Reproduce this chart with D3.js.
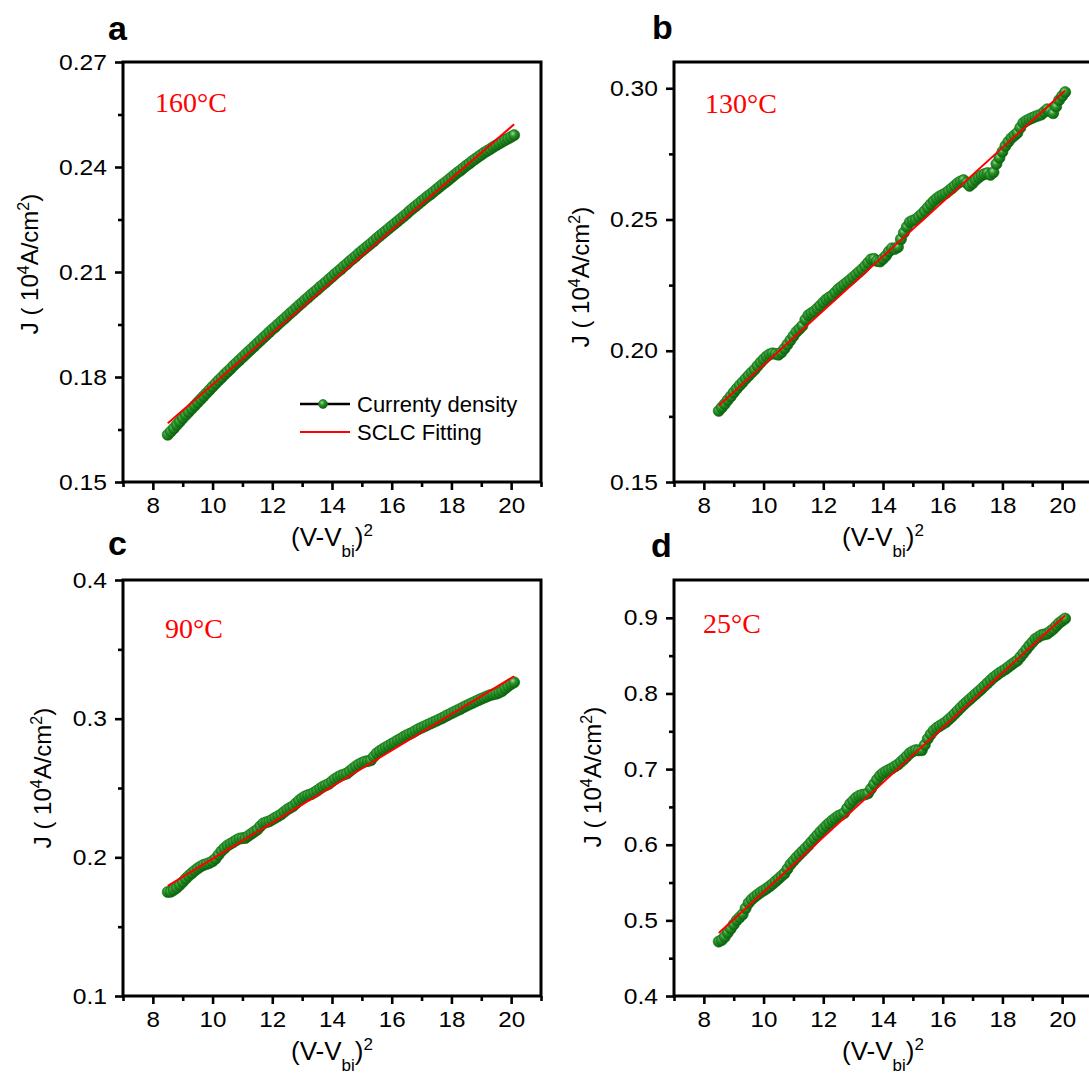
<!DOCTYPE html>
<html><head><meta charset="utf-8">
<script src="https://cdn.jsdelivr.net/npm/d3@7"></script>
<style>body{margin:0;background:#fff}</style>
</head><body>
<svg id="chart" width="1089" height="1077"></svg>
<script>
// ---------- data ----------
const xVals = [8.5,8.6,8.7,8.8,8.9,
 9.0,9.1,9.2,9.3,9.4,9.5,9.6,9.7,9.8,9.9,
 10.0,10.1,10.2,10.3,10.4,10.5,10.6,10.7,10.8,10.9,
 11.0,11.1,11.2,11.3,11.4,11.5,11.6,11.7,11.8,11.9,
 12.0,12.1,12.2,12.3,12.4,12.5,12.6,12.7,12.8,12.9,
 13.0,13.1,13.2,13.3,13.4,13.5,13.6,13.7,13.8,13.9,
 14.0,14.1,14.2,14.3,14.4,14.5,14.6,14.7,14.8,14.9,
 15.0,15.1,15.2,15.3,15.4,15.5,15.6,15.7,15.8,15.9,
 16.0,16.1,16.2,16.3,16.4,16.5,16.6,16.7,16.8,16.9,
 17.0,17.1,17.2,17.3,17.4,17.5,17.6,17.7,17.8,17.9,
 18.0,18.1,18.2,18.3,18.4,18.5,18.6,18.7,18.8,18.9,
 19.0,19.1,19.2,19.3,19.4,19.5,19.6,19.7,19.8,19.9,
 20.0,20.1];
const jA = [.1635,.1644,.1653,.1663,.1672,
 .1682,.1691,.1700,.1709,.1718,.1727,.1736,.1745,.1754,.1763,
 .1772,.1781,.1790,.1798,.1807,.1815,.1823,.1832,.1840,.1848,
 .1856,.1864,.1872,.1880,.1888,.1896,.1904,.1912,.1920,.1928,
 .1936,.1943,.1951,.1959,.1966,.1974,.1982,.1989,.1997,.2005,
 .2012,.2020,.2027,.2035,.2042,.2049,.2057,.2064,.2071,.2079,
 .2086,.2094,.2101,.2108,.2116,.2123,.2131,.2138,.2145,.2153,
 .2160,.2167,.2174,.2181,.2188,.2196,.2203,.2210,.2217,.2224,
 .2231,.2238,.2245,.2252,.2259,.2266,.2274,.2281,.2288,.2295,
 .2302,.2309,.2316,.2322,.2329,.2336,.2343,.2350,.2356,.2363,
 .2370,.2377,.2384,.2390,.2397,.2404,.2410,.2417,.2423,.2429,
 .2435,.2441,.2446,.2451,.2457,.2462,.2467,.2472,.2477,.2481,
 .2486,.2491];
const jB = [.1771,.1784,.1797,.1812,.1826,
 .1841,.1855,.1868,.1880,.1893,.1905,.1917,.1928,.1942,.1955,
 .1967,.1978,.1986,.1990,.1988,.1985,.1994,.2008,.2024,.2040,
 .2056,.2072,.2083,.2095,.2118,.2135,.2143,.2150,.2161,.2172,
 .2184,.2195,.2203,.2210,.2222,.2234,.2243,.2252,.2261,.2270,
 .2280,.2290,.2300,.2310,.2322,.2335,.2348,.2350,.2342,.2340,
 .2350,.2362,.2378,.2390,.2388,.2395,.2425,.2450,.2472,.2490,
 .2496,.2500,.2510,.2520,.2532,.2545,.2558,.2570,.2580,.2588,
 .2594,.2600,.2609,.2618,.2628,.2638,.2645,.2650,.2640,.2628,
 .2638,.2650,.2660,.2668,.2673,.2677,.2670,.2680,.2712,.2735,
 .2758,.2780,.2796,.2810,.2820,.2830,.2850,.2868,.2876,.2882,
 .2887,.2892,.2896,.2900,.2910,.2920,.2912,.2905,.2930,.2955,
 .2970,.2985];
const jC = [.1750,.1752,.1765,.1780,.1800,
 .1822,.1845,.1866,.1885,.1903,.1920,.1934,.1945,.1952,.1960,
 .1972,.1990,.2018,.2045,.2066,.2085,.2098,.2110,.2124,.2135,
 .2138,.2140,.2155,.2170,.2185,.2200,.2224,.2245,.2253,.2260,
 .2272,.2285,.2297,.2310,.2328,.2345,.2357,.2370,.2390,.2410,
 .2426,.2440,.2448,.2455,.2467,.2480,.2496,.2510,.2520,.2530,
 .2548,.2565,.2578,.2590,.2597,.2605,.2622,.2640,.2656,.2670,
 .2681,.2690,.2694,.2700,.2726,.2750,.2766,.2780,.2793,.2805,
 .2818,.2830,.2843,.2855,.2868,.2880,.2890,.2900,.2913,.2925,
 .2935,.2945,.2955,.2965,.2975,.2985,.2995,.3005,.3017,.3028,
 .3039,.3050,.3060,.3070,.3082,.3093,.3103,.3113,.3123,.3133,
 .3143,.3152,.3161,.3170,.3175,.3180,.3188,.3200,.3218,.3235,
 .3250,.3262];
const jD = [.4720,.4740,.4780,.4835,.4890,
 .4945,.5000,.5040,.5080,.5160,.5230,.5275,.5310,.5340,.5370,
 .5395,.5420,.5450,.5480,.5515,.5550,.5585,.5620,.5680,.5740,
 .5785,.5830,.5870,.5910,.5950,.5990,.6035,.6080,.6125,.6170,
 .6210,.6250,.6285,.6320,.6350,.6380,.6395,.6420,.6480,.6540,
 .6580,.6620,.6645,.6660,.6665,.6680,.6740,.6800,.6860,.6910,
 .6945,.6970,.6990,.7010,.7035,.7060,.7095,.7130,.7170,.7210,
 .7235,.7250,.7248,.7250,.7320,.7400,.7460,.7510,.7545,.7570,
 .7595,.7620,.7655,.7690,.7730,.7770,.7810,.7850,.7885,.7920,
 .7955,.7990,.8025,.8060,.8098,.8136,.8173,.8210,.8240,.8270,
 .8295,.8320,.8350,.8380,.8408,.8435,.8482,.8530,.8580,.8630,
 .8675,.8720,.8745,.8770,.8780,.8790,.8820,.8850,.8890,.8930,
 .8960,.8990];
const fitX = [8.5, 20.1];
const fitA = [0.1668, 0.2522];
const fitB = [0.1791, 0.2991];
const fitC = [0.1794, 0.3306];
const fitD = [0.4833, 0.9032];
const xTicks = [8,10,12,14,16,18,20];
const xMinor = [7,9,11,13,15,17,19,21];
const yTicksA = [0.15,0.18,0.21,0.24,0.27], yMinorA = [0.165,0.195,0.225,0.255];
const yTicksB = [0.15,0.20,0.25,0.30],      yMinorB = [0.175,0.225,0.275];
const yTicksC = [0.1,0.2,0.3,0.4],          yMinorC = [0.15,0.25,0.35];
const yTicksD = [0.4,0.5,0.6,0.7,0.8,0.9],  yMinorD = [0.45,0.55,0.65,0.75,0.85];
const yDomA = [0.15,0.27], yDomB = [0.15,0.31], yDomC = [0.1,0.4], yDomD = [0.4,0.95];
const xDom = [7,21];
const letters = ["a","b","c","d"];
const temps = ["160°C","130°C","90°C","25°C"];
const legendLabels = ["Currenty density","SCLC Fitting"];

// ---------- layout ----------
const panels = [
  {J:jA, fit:fitA, yDom:yDomA, yT:yTicksA, yM:yMinorA, fmt:".2f", left:123, top:62,  w:418, h:420, letter:[108,40],  temp:[155,112], yt:[38,264],  xtY:546, legend:true},
  {J:jB, fit:fitB, yDom:yDomB, yT:yTicksB, yM:yMinorB, fmt:".2f", left:674, top:62,  w:418, h:420, letter:[652,39],  temp:[705,113], yt:[589,277], xtY:546},
  {J:jC, fit:fitC, yDom:yDomC, yT:yTicksC, yM:yMinorC, fmt:".1f", left:123, top:580, w:418, h:416, letter:[108,555], temp:[165,638], yt:[51,778],  xtY:1060},
  {J:jD, fit:fitD, yDom:yDomD, yT:yTicksD, yM:yMinorD, fmt:".1f", left:674, top:580, w:418, h:416, letter:[651,557], temp:[703,633], yt:[601,777], xtY:1060}
];

const svg = d3.select("#chart");
const SANS = "'Liberation Sans', Arial, Helvetica, sans-serif";
const SERIF = "'Liberation Serif', 'Times New Roman', serif";

const defs = svg.append("defs");
const grad = defs.append("radialGradient").attr("id","ball").attr("cx","38%").attr("cy","35%").attr("r","65%");
grad.append("stop").attr("offset","0%").attr("stop-color","#9fdc9f");
grad.append("stop").attr("offset","40%").attr("stop-color","#2a962a");
grad.append("stop").attr("offset","100%").attr("stop-color","#0d600d");

function stretch(sel, k) {
  sel.each(function() {
    const w = this.getComputedTextLength();
    if (w > 0) d3.select(this).attr("textLength", w * k).attr("lengthAdjust", "spacingAndGlyphs");
  });
}

panels.forEach((p, i) => {
  const x = d3.scaleLinear().domain(xDom).range([p.left, p.left + p.w]);
  const y = d3.scaleLinear().domain(p.yDom).range([p.top + p.h, p.top]);
  const g = svg.append("g");

  // data connecting line (black, under markers)
  const line = d3.line().x((d, k) => x(xVals[k])).y(d => y(d));
  g.append("path").datum(p.J).attr("d", line).attr("fill","none").attr("stroke","#000").attr("stroke-width",1);

  // markers
  g.selectAll("circle.pt").data(p.J).join("circle").attr("class","pt")
    .attr("cx", (d, k) => x(xVals[k])).attr("cy", d => y(d)).attr("r", 5.6)
    .attr("fill","url(#ball)").attr("stroke","#0f6b0f").attr("stroke-width",0.6);

  // fit line
  const fl = d3.line().x((d, k) => x(fitX[k])).y(d => y(d));
  g.append("path").datum(p.fit).attr("d", fl).attr("fill","none").attr("stroke","#ff0000").attr("stroke-width",2);

  // frame
  g.append("rect").attr("x", p.left).attr("y", p.top).attr("width", p.w).attr("height", p.h)
    .attr("fill","none").attr("stroke","#000").attr("stroke-width",3);

  // axes
  const styleAxis = sel => {
    sel.select(".domain").remove();
    sel.selectAll(".tick line").attr("stroke","#000").attr("stroke-width",2.6);
    sel.selectAll(".tick text").attr("font-family", SANS).attr("font-size", 22).attr("fill","#000");
  };
  const xa = g.append("g").attr("transform",`translate(0,${p.top + p.h})`)
    .call(d3.axisBottom(x).tickValues(xTicks).tickSize(8).tickPadding(7).tickFormat(d3.format("d")))
    .call(styleAxis);
  g.append("g").attr("transform",`translate(0,${p.top + p.h})`)
    .call(d3.axisBottom(x).tickValues(xMinor).tickSize(5).tickFormat(""))
    .call(styleAxis);
  const ya = g.append("g").attr("transform",`translate(${p.left},0)`)
    .call(d3.axisLeft(y).tickValues(p.yT).tickSize(8).tickPadding(8).tickFormat(d3.format(p.fmt)))
    .call(styleAxis);
  g.append("g").attr("transform",`translate(${p.left},0)`)
    .call(d3.axisLeft(y).tickValues(p.yM).tickSize(5).tickFormat(""))
    .call(styleAxis);
  stretch(xa.selectAll(".tick text"), 1.1);
  stretch(ya.selectAll(".tick text"), 1.12);

  // panel letter
  g.append("text").attr("x", p.letter[0]).attr("y", p.letter[1]).text(letters[i])
    .attr("font-family", SANS).attr("font-weight","bold").attr("font-size", 34).attr("fill","#000");

  // temperature
  g.append("text").attr("x", p.temp[0]).attr("y", p.temp[1]).text(temps[i])
    .attr("font-family", SERIF).attr("font-size", 28).attr("fill","#ff0000");

  // x title
  const xt = g.append("text").attr("x", p.left + p.w/2).attr("y", p.xtY).attr("text-anchor","middle")
    .attr("font-family", SANS).attr("font-size", 26).attr("fill","#000");
  xt.append("tspan").text("(V-V");
  xt.append("tspan").attr("dy", 11).attr("font-size", 17).text("bi");
  xt.append("tspan").attr("dy", -11).text(")");
  xt.append("tspan").attr("dy", -10).attr("font-size", 17).text("2");

  // y title
  const yt = g.append("text").attr("transform", `translate(${p.yt[0]},${p.yt[1]}) rotate(-90)`)
    .attr("text-anchor","middle").attr("font-family", SANS).attr("font-size", 24).attr("fill","#000");
  yt.append("tspan").text("J ( 10");
  yt.append("tspan").attr("dy", -9).attr("font-size", 16).text("4");
  yt.append("tspan").attr("dy", 9).text("A/cm");
  yt.append("tspan").attr("dy", -9).attr("font-size", 16).text("2");
  yt.append("tspan").attr("dy", 9).text(")");

  // legend
  if (p.legend) {
    const lg = g.append("g");
    lg.append("line").attr("x1",300).attr("x2",350).attr("y1",404).attr("y2",404).attr("stroke","#000").attr("stroke-width",2.5);
    lg.append("circle").attr("cx",323).attr("cy",404).attr("r",4.5).attr("fill","url(#ball)").attr("stroke","#0f6b0f").attr("stroke-width",0.6);
    lg.append("text").attr("x",357).attr("y",412).text(legendLabels[0]).attr("font-family",SANS).attr("font-size",22).attr("fill","#000");
    lg.append("line").attr("x1",300).attr("x2",350).attr("y1",432).attr("y2",432).attr("stroke","#ff0000").attr("stroke-width",2);
    lg.append("text").attr("x",357).attr("y",440).text(legendLabels[1]).attr("font-family",SANS).attr("font-size",22).attr("fill","#000");
  }
});
</script>
</body></html>
